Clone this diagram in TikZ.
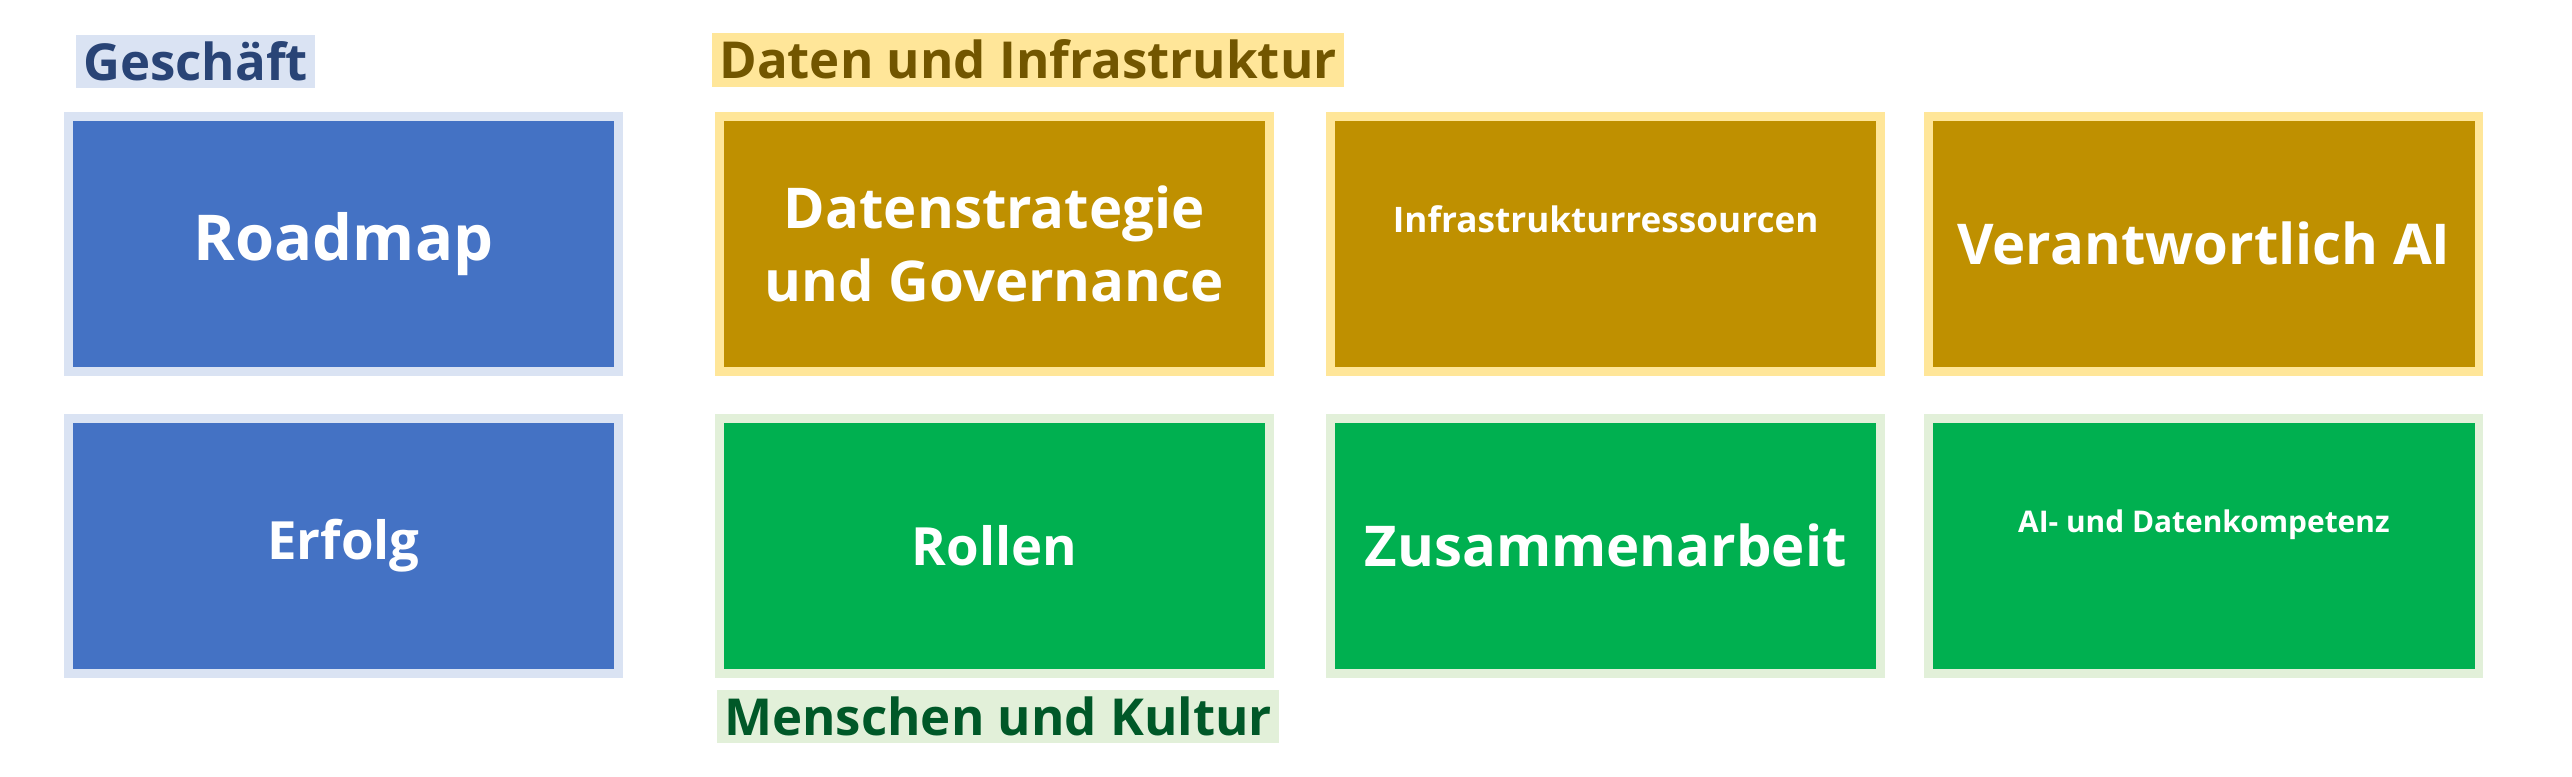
\documentclass[tikz,border=0pt]{standalone}
\usepackage{fontspec}
\setmainfont{Open Sans}
\definecolor{biz}{HTML}{4472C4}
\definecolor{data}{HTML}{BF9000}
\definecolor{ppl}{HTML}{00B050}
\definecolor{bizrim}{HTML}{DAE3F3}
\definecolor{datarim}{HTML}{FFE699}
\definecolor{pplrim}{HTML}{E2F0D9}
\tikzset{
  tile/.style={draw=#1rim, line width=2.5pt, fill=#1, text=white, font=\bfseries,
    minimum width=5.5cm, minimum height=2.55cm, align=center, inner sep=0pt},
  head/.style={fill=#1rim, inner sep=2pt, anchor=west, font=\fontsize{14.5}{17}\selectfont\bfseries}
}
\begin{document}
\begin{tikzpicture}[x=0.01643cm, y=-0.01659cm]
  \useasboundingbox (0,0) rectangle (1565,468);
  % Geschaeft
  \node[head=biz, text=biz!60!black] (geschaeft) at (46,37) {Geschäft};
  \node[tile=biz, font=\fontsize{18}{22}\selectfont\bfseries] (roadmap) at (209,147) {Roadmap};
  \node[tile=biz, font=\fontsize{15}{18}\selectfont\bfseries] (erfolg) at (209,329) {Erfolg};
  % Daten und Infrastruktur
  \node[head=data, text=data!60!black] (daten) at (433,36) {Daten und Infrastruktur};
  \node[tile=data, font=\fontsize{16}{21}\selectfont\bfseries] (strategie) at (605,147) {Datenstrategie\\und Governance};
  \node[tile=data, font=\fontsize{10}{12}\selectfont\bfseries, text depth=14pt] (infra) at (977,147) {Infrastrukturressourcen};
  \node[tile=data, font=\fontsize{16}{20}\selectfont\bfseries] (verantw) at (1341,147) {Verantwortlich AI};
  % Menschen und Kultur
  \node[tile=ppl, font=\fontsize{15}{18}\selectfont\bfseries] (rollen) at (605,329) {Rollen};
  \node[tile=ppl, font=\fontsize{16}{20}\selectfont\bfseries] (zusammen) at (977,329) {Zusammenarbeit};
  \node[tile=ppl, font=\fontsize{8.5}{10}\selectfont\bfseries, text depth=14pt] (kompetenz) at (1341,329) {AI- und Datenkompetenz};
  \node[head=ppl, text=ppl!50!black] (menschen) at (436,432) {Menschen und Kultur};
\end{tikzpicture}
\end{document}
